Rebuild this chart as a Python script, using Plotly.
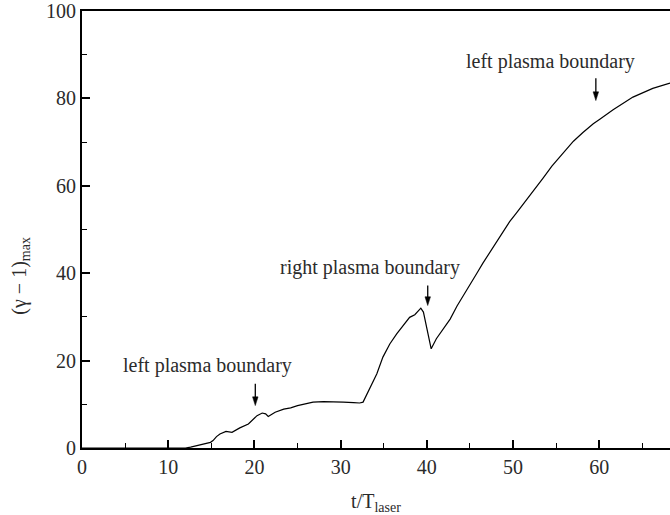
import plotly.graph_objects as go

# Maximum electron energy (gamma - 1) versus time in laser periods
t_laser = [0, 4, 8, 12, 12.6, 13.5, 14.3, 14.9, 15.2, 15.6, 16.0, 16.7, 17.4, 18.3,
           19.3, 19.8, 20.3, 20.9, 21.3, 21.6, 22.4, 23.4, 24.2, 25.0, 25.7, 26.8,
           28.0, 29.0, 30.3, 31.5, 32.2, 32.6, 33.4, 34.2, 34.9, 35.7, 36.5, 37.3,
           38.0, 38.6, 39.0, 39.3, 39.6, 39.8, 40.2, 40.5, 41.1, 41.9, 42.7, 43.5,
           44.3, 45.0, 45.8, 46.5, 47.7, 48.5, 49.6, 50.4, 51.9, 52.3, 53.5, 54.5,
           56.2, 57.0, 58.1, 59.3, 60.1, 61.6, 63.9, 66.2, 68.2]
gamma_max = [0, 0, 0, 0, 0.2, 0.6, 1.0, 1.3, 1.7, 2.6, 3.2, 3.8, 3.6, 4.6,
             5.5, 6.4, 7.4, 8.0, 7.8, 7.2, 8.2, 8.9, 9.2, 9.7, 10.0, 10.5,
             10.6, 10.6, 10.5, 10.4, 10.3, 10.5, 13.9, 17.0, 20.8, 23.8, 26.1, 28.0,
             29.9, 30.5, 31.5, 32.0, 31.1, 29.2, 25.4, 22.7, 25.0, 27.3, 29.5, 32.5,
             35.0, 37.2, 40.0, 42.3, 46.0, 48.6, 51.8, 53.8, 57.6, 58.7, 61.8, 64.5,
             68.3, 70.2, 72.2, 74.2, 75.3, 77.4, 80.3, 82.3, 83.5]

x_ticks = [0, 10, 20, 30, 40, 50, 60]
y_ticks = [0, 20, 40, 60, 80, 100]

# callouts: label, label centre (t, value), arrow t, arrow tail value, arrow tip value
callout_text = ["left plasma boundary", "right plasma boundary", "left plasma boundary"]
callout_t = [14.5, 33.4, 54.3]
callout_v = [18.9, 41.3, 88.4]
arrow_t = [20.1, 40.1, 59.6]
arrow_tail = [14.7, 37.2, 84.6]
arrow_tip = [9.7, 32.6, 79.5]

FONT = "Liberation Serif, Times New Roman, serif"
TEXT = "#2b2b2b"

fig = go.Figure()
fig.add_trace(go.Scatter(x=t_laser, y=gamma_max, mode="lines",
                         line=dict(color="black", width=1.2),
                         showlegend=False, hoverinfo="skip"))

axis_common = dict(
    showline=True, linecolor="black", linewidth=2,
    ticks="inside", ticklen=8, tickwidth=1.6, tickcolor="black",
    showgrid=False, zeroline=False,
    tickfont=dict(family=FONT, size=20, color=TEXT),
)

fig.update_xaxes(range=[0, 68.2], tickvals=x_ticks, mirror=True,
                 minor=dict(dtick=5, ticks="inside", ticklen=5, tickwidth=1.4,
                            tickcolor="black", showgrid=False),
                 title=dict(text="t/T<sub>laser</sub>",
                            font=dict(family=FONT, size=20, color=TEXT), standoff=18),
                 **axis_common)
fig.update_yaxes(range=[0, 100], tickvals=y_ticks,
                 minor=dict(dtick=10, ticks="inside", ticklen=5, tickwidth=1.4,
                            tickcolor="black", showgrid=False),
                 **axis_common)

# y-axis title
fig.add_annotation(text="(γ − 1)<sub>max</sub>", textangle=-90,
                   xref="paper", yref="y", x=-0.105, y=39.5,
                   showarrow=False, xanchor="center", yanchor="middle",
                   font=dict(family=FONT, size=20, color=TEXT))

# callout labels
for txt, tx, ty in zip(callout_text, callout_t, callout_v):
    fig.add_annotation(text=txt, x=tx, y=ty, xref="x", yref="y",
                       showarrow=False, xanchor="center", yanchor="middle",
                       font=dict(family=FONT, size=20, color=TEXT))

# downward arrows: thin shaft plus a narrow filled head
head_len = 2.0   # value units
head_half = 0.32  # time units
for at, tail, tip in zip(arrow_t, arrow_tail, arrow_tip):
    fig.add_shape(type="line", xref="x", yref="y",
                  x0=at, x1=at, y0=tail, y1=tip + head_len * 0.6,
                  line=dict(color="black", width=1.3))
    fig.add_shape(type="path", xref="x", yref="y",
                  path=f"M {at - head_half} {tip + head_len} L {at + head_half} {tip + head_len} "
                       f"L {at} {tip} Z",
                  fillcolor="black", line=dict(color="black", width=0.5))

fig.update_layout(
    width=670, height=515,
    margin=dict(l=82, r=0, t=11, b=67),
    plot_bgcolor="white", paper_bgcolor="white",
)

fig.write_html("out.html")
